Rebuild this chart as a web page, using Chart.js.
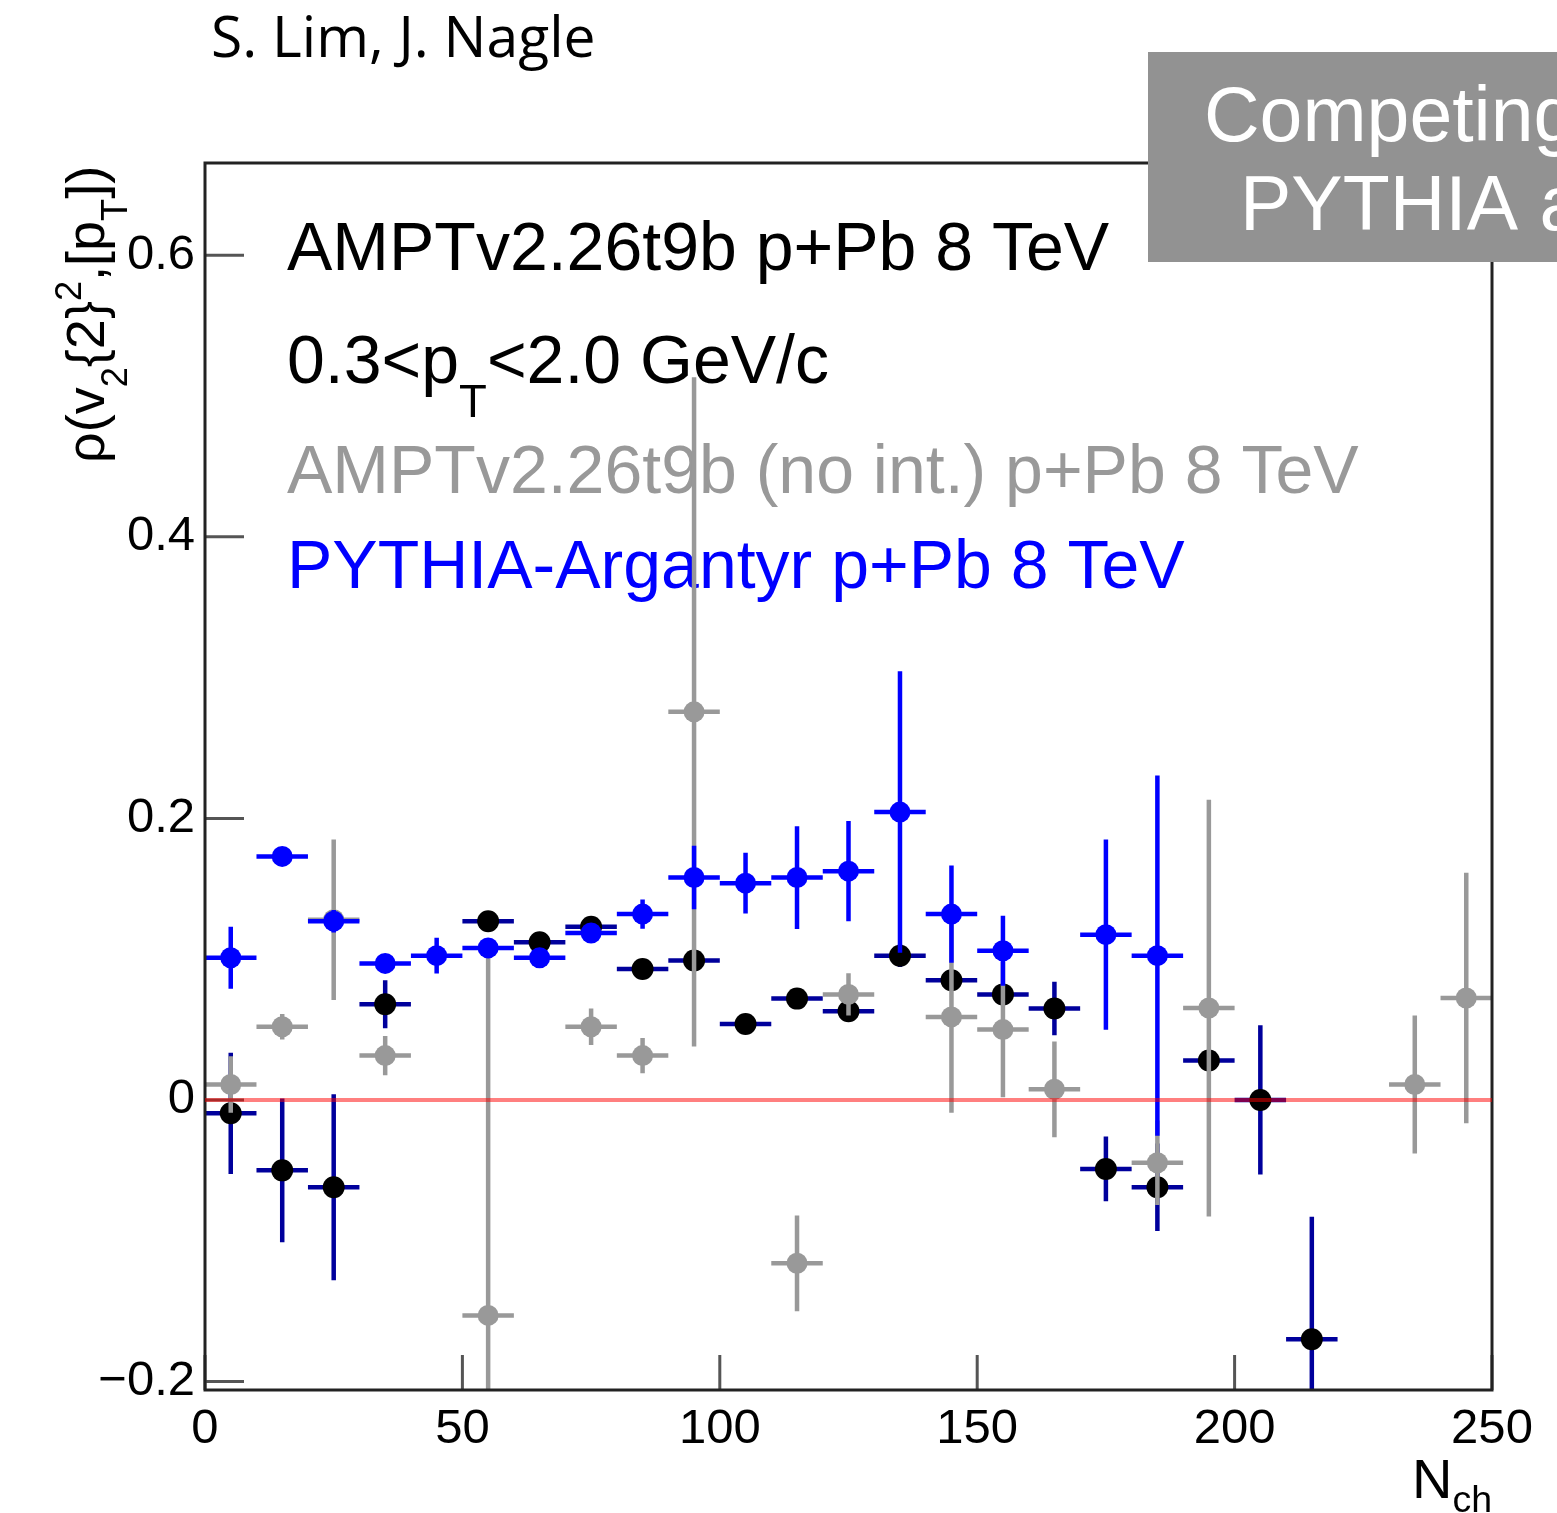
<!DOCTYPE html>
<html>
<head>
<meta charset="utf-8">
<title>rho(v2{2}^2,[pT]) vs Nch</title>
<script src="https://cdn.jsdelivr.net/npm/chart.js@4.4.1/dist/chart.umd.min.js"></script>
<style>
  html, body { margin: 0; padding: 0; background: #fff; }
  canvas { display: block; }
</style>
</head>
<body>
<canvas id="chart" width="1557" height="1513"></canvas>
<script>
// N_ch bin centres (bins are 10 wide)
const nchBins = [5, 15, 25, 35, 45, 55, 65, 75, 85, 95, 105, 115, 125,
                 135, 145, 155, 165, 175, 185, 195, 205, 215, 225, 235, 245];
const binHalfWidth = 5;

// AMPTv2.26t9b p+Pb 8 TeV
const amptValues = [-0.0095, -0.050, -0.062, 0.068, null, 0.127, 0.112, 0.123, 0.093, 0.099, 0.054, 0.072, 0.063,
                    0.1025, 0.085, 0.075, 0.065, -0.049, -0.062, 0.028, 0.000, -0.170, null, null, null];
const amptErrors = [0.043, 0.051, 0.066, 0.017, null, 0.005, 0.005, 0.005, 0.005, 0.005, 0.004, 0.005, 0.005,
                    0.008, 0.006, 0.006, 0.019, 0.023, 0.031, 0.006, 0.053, 0.087, null, null, null];

// AMPTv2.26t9b (no int.) p+Pb 8 TeV
const noIntValues = [0.011, 0.052, 0.128, 0.0315, null, -0.153, null, 0.052, 0.0315, 0.2757, null, -0.116, 0.075,
                     null, 0.059, 0.050, 0.0076, null, -0.0446, 0.0653, null, null, null, 0.011, 0.0724];
const noIntErrors = [0.020, 0.009, 0.057, 0.014, null, 0.260, null, 0.013, 0.0125, 0.2377, null, 0.034, 0.015,
                     null, 0.068, 0.048, 0.034, null, 0.030, 0.148, null, null, null, 0.049, 0.089];

// PYTHIA-Argantyr p+Pb 8 TeV
const pythiaValues = [0.101, 0.173, 0.127, 0.097, 0.1025, 0.108, 0.101, 0.1186, 0.132, 0.158, 0.154, 0.158, 0.1625,
                      0.2045, 0.132, 0.106, null, 0.1174, 0.1025, null, null, null, null, null, null];
const pythiaErrors = [0.022, 0.005, 0.008, 0.006, 0.0127, 0.006, 0.006, 0.006, 0.0104, 0.0225, 0.0216, 0.0365, 0.0356,
                      0.100, 0.0346, 0.0249, null, 0.0676, 0.128, null, null, null, null, null, null];

const xTicks = [0, 50, 100, 150, 200, 250];
const yTicks = [-0.2, 0, 0.2, 0.4, 0.6];
const xRange = [0, 250];
const yRange = [-0.206, 0.6655];

const FONT = '"Liberation Sans", Arial, Helvetica, sans-serif';

function toPoints(values, errors) {
  const pts = [];
  values.forEach((v, i) => {
    if (v !== null) pts.push({ x: nchBins[i], y: v, err: errors[i] });
  });
  return pts;
}

// draws text made of pieces, each piece: [text, kind] with kind '' | 'sub' | 'sup'
function drawRich(ctx, x, y, pieces, size, color, subShift) {
  let cx = x;
  ctx.fillStyle = color;
  ctx.textBaseline = 'alphabetic';
  ctx.textAlign = 'left';
  pieces.forEach(([text, kind]) => {
    let s = size, dy = 0;
    if (kind === 'sub') { s = size * 0.67; dy = size * (subShift || 0.5); }
    if (kind === 'sup') { s = size * 0.67; dy = -size * 0.42; }
    ctx.font = s + 'px ' + FONT;
    ctx.fillText(text, cx, y + dy);
    cx += ctx.measureText(text).width;
  });
}

// horizontal + vertical error bars, drawn just before each series' markers
const errorBars = {
  id: 'errorBars',
  beforeDatasetDraw(chart, args) {
    const ds = chart.data.datasets[args.index];
    const { ctx, chartArea, scales: { x, y } } = chart;
    ctx.save();
    ctx.beginPath();
    ctx.rect(chartArea.left, chartArea.top, chartArea.right - chartArea.left, chartArea.bottom - chartArea.top);
    ctx.clip();
    ctx.strokeStyle = ds.errorColor;
    ctx.lineWidth = 4.5;
    ctx.lineCap = 'butt';
    ds.data.forEach(p => {
      const px = x.getPixelForValue(p.x);
      const py = y.getPixelForValue(p.y);
      ctx.beginPath();
      ctx.moveTo(x.getPixelForValue(p.x - binHalfWidth), py);
      ctx.lineTo(x.getPixelForValue(p.x + binHalfWidth), py);
      ctx.moveTo(px, y.getPixelForValue(p.y + p.err));
      ctx.lineTo(px, y.getPixelForValue(p.y - p.err));
      ctx.stroke();
    });
    ctx.restore();
  }
};

// legend text sits behind the data
const legendText = {
  id: 'legendText',
  beforeDatasetsDraw(chart) {
    const ctx = chart.ctx;
    ctx.save();
    drawRich(ctx, 287, 270, [['AMPTv2.26t9b p+Pb 8 TeV', '']], 68, '#000');
    drawRich(ctx, 287, 383, [['0.3<p', ''], ['T', 'sub'], ['<2.0 GeV/c', '']], 68, '#000', 0.5);
    drawRich(ctx, 287, 493, [['AMPTv2.26t9b (no int.) p+Pb 8 TeV', '']], 68, '#999999');
    drawRich(ctx, 287, 588, [['PYTHIA-Argantyr p+Pb 8 TeV', '']], 68, '#0000ff');
    ctx.restore();
  }
};

// frame, inward ticks and the zero line
const frame = {
  id: 'frame',
  afterDatasetsDraw(chart) {
    const { ctx, chartArea: a, scales: { x, y } } = chart;
    ctx.save();
    ctx.strokeStyle = '#555';
    ctx.lineWidth = 3;
    ctx.beginPath();
    yTicks.forEach(v => {
      const py = y.getPixelForValue(v);
      ctx.moveTo(a.left, py);
      ctx.lineTo(a.left + 39, py);
    });
    xTicks.forEach(v => {
      const px = x.getPixelForValue(v);
      ctx.moveTo(px, a.bottom);
      ctx.lineTo(px, a.bottom - 35);
    });
    ctx.stroke();

    ctx.strokeStyle = '#222';
    ctx.lineWidth = 3;
    ctx.strokeRect(a.left, a.top, a.right - a.left, a.bottom - a.top);

    const y0 = y.getPixelForValue(0);
    ctx.strokeStyle = 'rgba(255, 0, 0, 0.5)';
    ctx.lineWidth = 4;
    ctx.beginPath();
    ctx.moveTo(a.left, y0);
    ctx.lineTo(a.right, y0);
    ctx.stroke();
    ctx.restore();
  }
};

// axis titles, author line and the grey banner
const decorations = {
  id: 'decorations',
  afterDraw(chart) {
    const { ctx, chartArea: a } = chart;
    ctx.save();

    // N_ch, right aligned under the x axis
    ctx.font = '56px ' + FONT;
    const nW = ctx.measureText('N').width;
    ctx.font = (56 * 0.67) + 'px ' + FONT;
    const chW = ctx.measureText('ch').width;
    drawRich(ctx, a.right - nW - chW, 1498, [['N', ''], ['ch', 'sub']], 56, '#000', 0.25);

    // rotated y title
    ctx.save();
    ctx.translate(104, 463);
    ctx.rotate(-Math.PI / 2);
    drawRich(ctx, 0, 0, [['\u03C1(v', ''], ['2', 'sub'], ['{2}', ''], ['2', 'sup'], [',[p', ''], ['T', 'sub'], ['])', '']],
             54, '#000', 0.42);
    ctx.restore();

    // author line
    ctx.fillStyle = '#000';
    ctx.font = '57px "Open Sans", "Noto Sans", sans-serif';
    ctx.textBaseline = 'alphabetic';
    ctx.fillText('S. Lim, J. Nagle', 211, 57);

    // grey banner in the top-right corner
    ctx.fillStyle = '#929292';
    ctx.fillRect(1148, 52, 1557 - 1148, 210);
    ctx.fillStyle = '#fff';
    ctx.font = '77px ' + FONT;
    ctx.fillText('Competing', 1204, 141);
    ctx.fillText('PYTHIA a', 1240, 230);
    ctx.restore();
  }
};

const ctx = document.getElementById('chart').getContext('2d');
new Chart(ctx, {
  type: 'scatter',
  data: {
    // first dataset is drawn on top
    datasets: [
      {
        label: 'PYTHIA-Argantyr p+Pb 8 TeV',
        data: toPoints(pythiaValues, pythiaErrors),
        pointRadius: 10.5,
        pointBackgroundColor: '#0000ff',
        pointBorderWidth: 0,
        errorColor: '#0000ff'
      },
      {
        label: 'AMPTv2.26t9b (no int.) p+Pb 8 TeV',
        data: toPoints(noIntValues, noIntErrors),
        pointRadius: 10.5,
        pointBackgroundColor: '#999999',
        pointBorderWidth: 0,
        errorColor: '#999999'
      },
      {
        label: 'AMPTv2.26t9b p+Pb 8 TeV',
        data: toPoints(amptValues, amptErrors),
        pointRadius: 11,
        pointBackgroundColor: '#000000',
        pointBorderWidth: 0,
        errorColor: '#00009c'
      }
    ]
  },
  options: {
    responsive: false,
    animation: false,
    events: [],
    layout: { padding: { left: 0, right: 65, top: 163, bottom: 0 } },
    plugins: {
      legend: { display: false },
      tooltip: { enabled: false }
    },
    scales: {
      x: {
        type: 'linear',
        min: xRange[0],
        max: xRange[1],
        grid: { display: false, drawTicks: false },
        border: { display: false },
        afterBuildTicks: s => { s.ticks = xTicks.map(v => ({ value: v })); },
        afterFit: s => { s.height = 123; },
        ticks: {
          color: '#000',
          font: { family: FONT, size: 49 },
          padding: 10,
          maxRotation: 0,
          autoSkip: false,
          callback: v => String(v)
        }
      },
      y: {
        type: 'linear',
        min: yRange[0],
        max: yRange[1],
        grid: { display: false, drawTicks: false },
        border: { display: false },
        afterBuildTicks: s => { s.ticks = yTicks.map(v => ({ value: v })); },
        afterFit: s => { s.width = 205; },
        ticks: {
          color: '#000',
          font: { family: FONT, size: 49 },
          padding: 10,
          autoSkip: false,
          callback: v => v === 0 ? '0' : (v < 0 ? '\u2212' : '') + Math.abs(v).toFixed(1)
        }
      }
    }
  },
  plugins: [errorBars, legendText, frame, decorations]
});
</script>
</body>
</html>
